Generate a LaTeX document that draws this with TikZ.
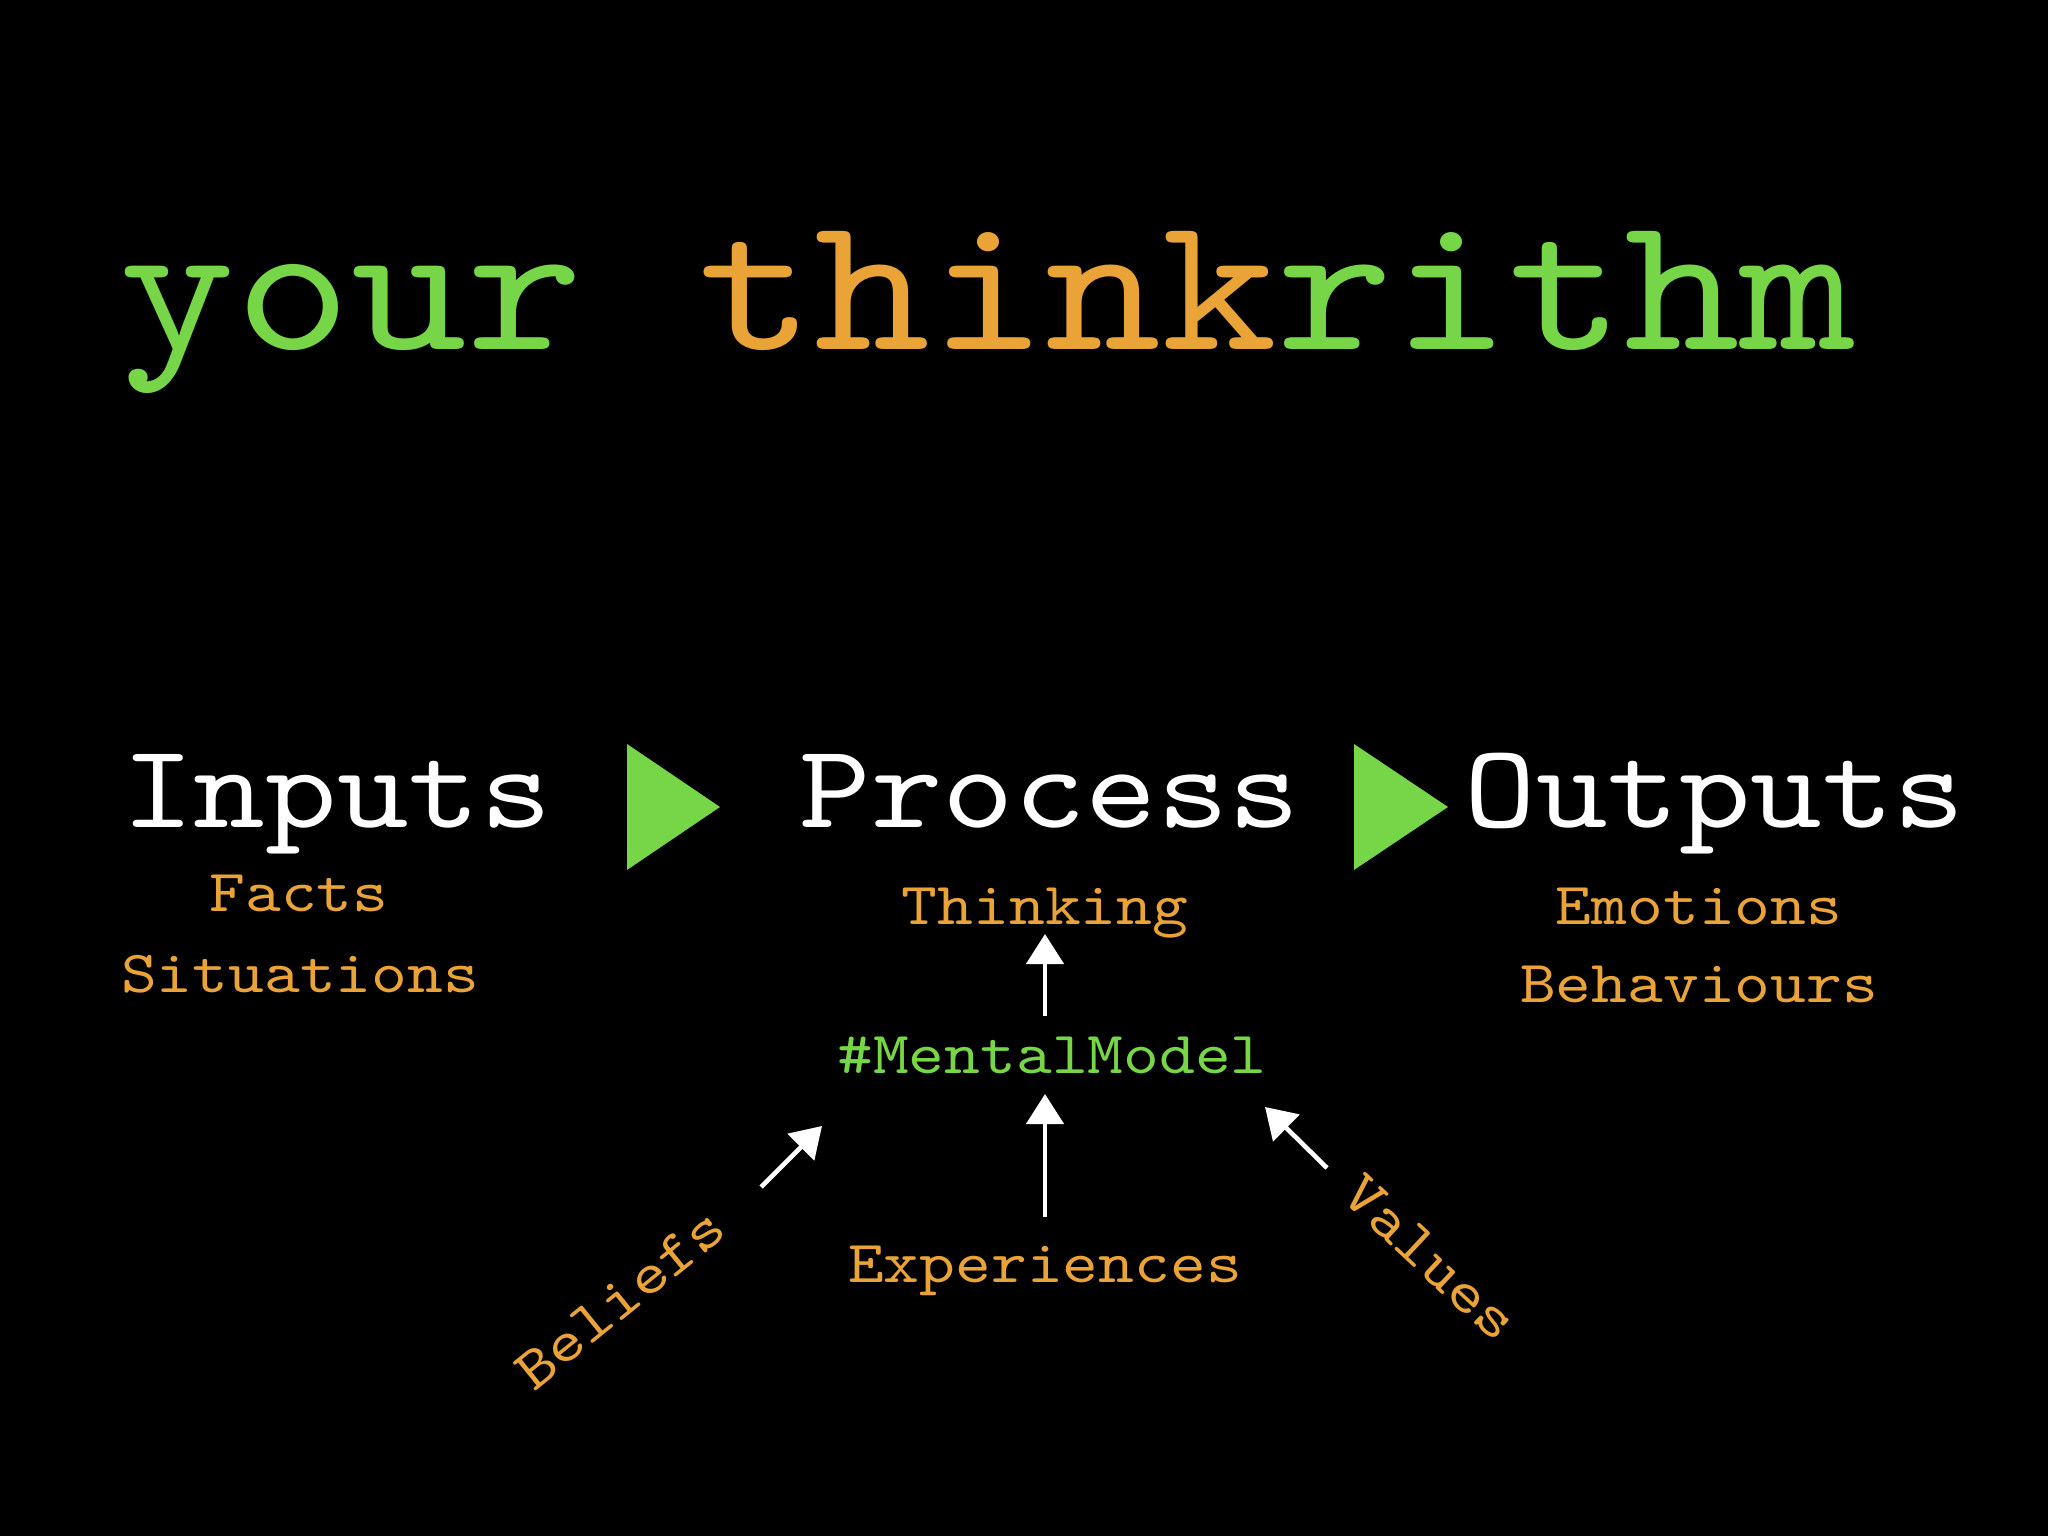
\documentclass[tikz,border=0pt]{standalone}
\usepackage{fontspec}
\newfontfamily\typew{lmmono10-regular.otf}[FakeStretch=1.14]
\usetikzlibrary{arrows.meta,calc}
\definecolor{thgreen}{RGB}{118,214,72}
\definecolor{thorange}{RGB}{233,163,55}
\begin{document}
\begin{tikzpicture}[x=0.01cm,y=0.01cm,
    every node/.style={inner sep=0pt},
    big/.style={anchor=base,text=white,font=\typew\fontsize{34}{34}\selectfont},
    small/.style={anchor=base,text=thorange,font=\typew\fontsize{17}{17}\selectfont},
    chalk/.style={draw=white,line width=0.46mm,-{Triangle[width=3.7mm,length=3mm]}}]
  \fill[black] (0,0) rectangle (2048,1536);
  \useasboundingbox (0,0) rectangle (2048,1536);

  \node[anchor=base,font=\typew\fontsize{55}{55}\selectfont] (title) at (988,1186)
    {\textcolor{thgreen}{your} \textcolor{thorange}{think}\textcolor{thgreen}{rithm}};

  \node[big] (inputs) at (337,708) {Inputs};
  \node[big] (process) at (1050,708) {Process};
  \node[big] (outputs) at (1715,708) {Outputs};
  \fill[thgreen] (627,792) -- (720,729) -- (627,666) -- cycle;
  \fill[thgreen] (1354,792) -- (1448,729) -- (1354,666) -- cycle;

  \node[small] (facts) at (299,624) {Facts};
  \node[small] (situations) at (300,543) {Situations};
  \node[small] (think) at (1045,611) {Thinking};
  \node[small] (emotions) at (1699,611) {Emotions};
  \node[small] (behaviours) at (1699,533) {Behaviours};
  \node[small,text=thgreen] (mm) at (1052,462) {\#MentalModel};
  \node[small] (exp) at (1045,253) {Experiences};
  \node[small,anchor=center,rotate=39] (bel) at (620,237) {Beliefs};
  \node[small,anchor=center,rotate=-43] (val) at (1430,278) {Values};

  \draw[chalk,shorten <=5.8mm,shorten >=0.9mm] (think.base |- mm.base) -- (think.base);
  \draw[chalk,shorten <=6.6mm,shorten >=2mm] (exp.base) -- (exp.base |- mm.base);
  \draw[chalk] ($(bel.center)+(141,112)$) -- ($(mm.base)+(-230,-52)$);
  \draw[chalk] ($(val.center)+(-103,90)$) -- ($(mm.base)+(213,-33)$);
\end{tikzpicture}
\end{document}
